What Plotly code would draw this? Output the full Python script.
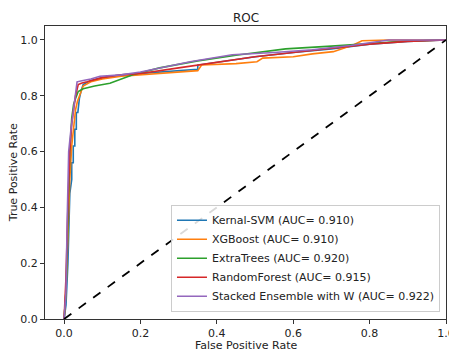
import plotly.graph_objects as go

names = ["Kernal-SVM (AUC= 0.910)", "XGBoost (AUC= 0.910)", "ExtraTrees (AUC= 0.920)",
         "RandomForest (AUC= 0.915)", "Stacked Ensemble with W (AUC= 0.922)"]
colors = ["#1f77b4", "#ff7f0e", "#2ca02c", "#d62728", "#9467bd"]

svm_fpr = [0, 0.005, 0.01, 0.015, 0.02, 0.02, 0.024, 0.024, 0.028, 0.028, 0.032, 0.032, 0.036, 0.04, 0.045, 0.05, 0.07, 0.1, 0.15, 0.2, 0.25, 0.3, 0.35, 0.35, 0.42, 0.5, 0.6, 0.7, 0.8, 0.9, 1.0]
svm_tpr = [0, 0.05, 0.2, 0.45, 0.5, 0.56, 0.56, 0.62, 0.62, 0.68, 0.68, 0.74, 0.74, 0.79, 0.82, 0.84, 0.855, 0.865, 0.875, 0.88, 0.885, 0.89, 0.895, 0.91, 0.925, 0.94, 0.955, 0.968, 0.985, 0.995, 1.0]

xgb_fpr = [0, 0.005, 0.01, 0.015, 0.02, 0.025, 0.03, 0.035, 0.04, 0.045, 0.05, 0.07, 0.1, 0.15, 0.2, 0.25, 0.3, 0.35, 0.36, 0.45, 0.505, 0.52, 0.6, 0.65, 0.705, 0.757, 0.78, 0.85, 1.0]
xgb_tpr = [0, 0.1, 0.3, 0.5, 0.62, 0.7, 0.75, 0.78, 0.8, 0.82, 0.835, 0.85, 0.86, 0.87, 0.875, 0.88, 0.885, 0.89, 0.91, 0.915, 0.922, 0.935, 0.94, 0.95, 0.958, 0.982, 0.997, 1.0, 1.0]

et_fpr = [0, 0.005, 0.01, 0.015, 0.02, 0.025, 0.03, 0.037, 0.05, 0.08, 0.12, 0.18, 0.25, 0.35, 0.45, 0.58, 0.7, 0.8, 0.9, 1.0]
et_tpr = [0, 0.1, 0.35, 0.6, 0.72, 0.77, 0.79, 0.815, 0.825, 0.835, 0.845, 0.875, 0.9, 0.925, 0.945, 0.968, 0.978, 0.988, 0.996, 1.0]

rf_fpr = [0, 0.005, 0.01, 0.015, 0.02, 0.025, 0.03, 0.037, 0.045, 0.06, 0.1, 0.15, 0.2, 0.3, 0.4, 0.5, 0.6, 0.7, 0.8, 0.9, 1.0]
rf_tpr = [0, 0.15, 0.4, 0.6, 0.7, 0.75, 0.8, 0.84, 0.845, 0.85, 0.865, 0.875, 0.88, 0.9, 0.92, 0.94, 0.955, 0.97, 0.985, 0.995, 1.0]

se_fpr = [0, 0.005, 0.008, 0.012, 0.018, 0.024, 0.03, 0.034, 0.05, 0.07, 0.094, 0.15, 0.2, 0.25, 0.33, 0.44, 0.55, 0.65, 0.75, 0.85, 1.0]
se_tpr = [0, 0.1, 0.35, 0.6, 0.68, 0.74, 0.8, 0.85, 0.855, 0.86, 0.87, 0.875, 0.885, 0.9, 0.922, 0.947, 0.955, 0.965, 0.98, 1.0, 1.0]

diag = [0, 1]
ticks = [0, 0.2, 0.4, 0.6, 0.8, 1.0]
tick_labels = ["0.0", "0.2", "0.4", "0.6", "0.8", "1.0"]

series = [(svm_fpr, svm_tpr), (xgb_fpr, xgb_tpr), (et_fpr, et_tpr), (rf_fpr, rf_tpr), (se_fpr, se_tpr)]

fig = go.Figure()
for (fx, ty), n, c in zip(series, names, colors):
    fig.add_trace(go.Scatter(x=fx, y=ty, mode="lines", name=n, line=dict(color=c, width=1.6)))
fig.add_trace(go.Scatter(x=diag, y=diag, mode="lines", showlegend=False,
                         line=dict(color="black", width=1.8, dash="dash")))

axis_common = dict(showline=True, linecolor="#333", linewidth=1, mirror=True, ticks="outside",
                   ticklen=4, tickcolor="#333", showgrid=False, zeroline=False, automargin=False,
                   tickvals=ticks, ticktext=tick_labels, tickfont=dict(size=11, color="#222"))
# page body has an 8px margin, so the figure is sized/offset to compensate
fig.update_layout(
    width=449, height=346,
    margin=dict(l=37, r=11, t=18, b=35),
    paper_bgcolor="white", plot_bgcolor="white",
    font=dict(family="DejaVu Sans", color="#222"),
    xaxis=dict(range=[-0.05, 1.0], **axis_common),
    yaxis=dict(range=[0, 1.05], **axis_common),
    legend=dict(x=0.985, y=0.025, xanchor="right", yanchor="bottom", bgcolor="rgba(255,255,255,0.85)",
                bordercolor="#ccc", borderwidth=1, font=dict(size=11), tracegroupgap=0),
    annotations=[
        dict(text="ROC", xref="paper", yref="paper", x=0.5, y=1.0, xanchor="center", yanchor="bottom",
             showarrow=False, font=dict(size=12), borderpad=0),
        dict(text="False Positive Rate", xref="paper", yref="paper", x=0.5, y=-0.09,
             xanchor="center", yanchor="middle", showarrow=False, font=dict(size=11)),
        dict(text="True Positive Rate", xref="paper", yref="paper", x=-0.078, y=0.5, textangle=-90,
             xanchor="center", yanchor="middle", showarrow=False, font=dict(size=11)),
    ],
)
fig.write_html("out.html")
